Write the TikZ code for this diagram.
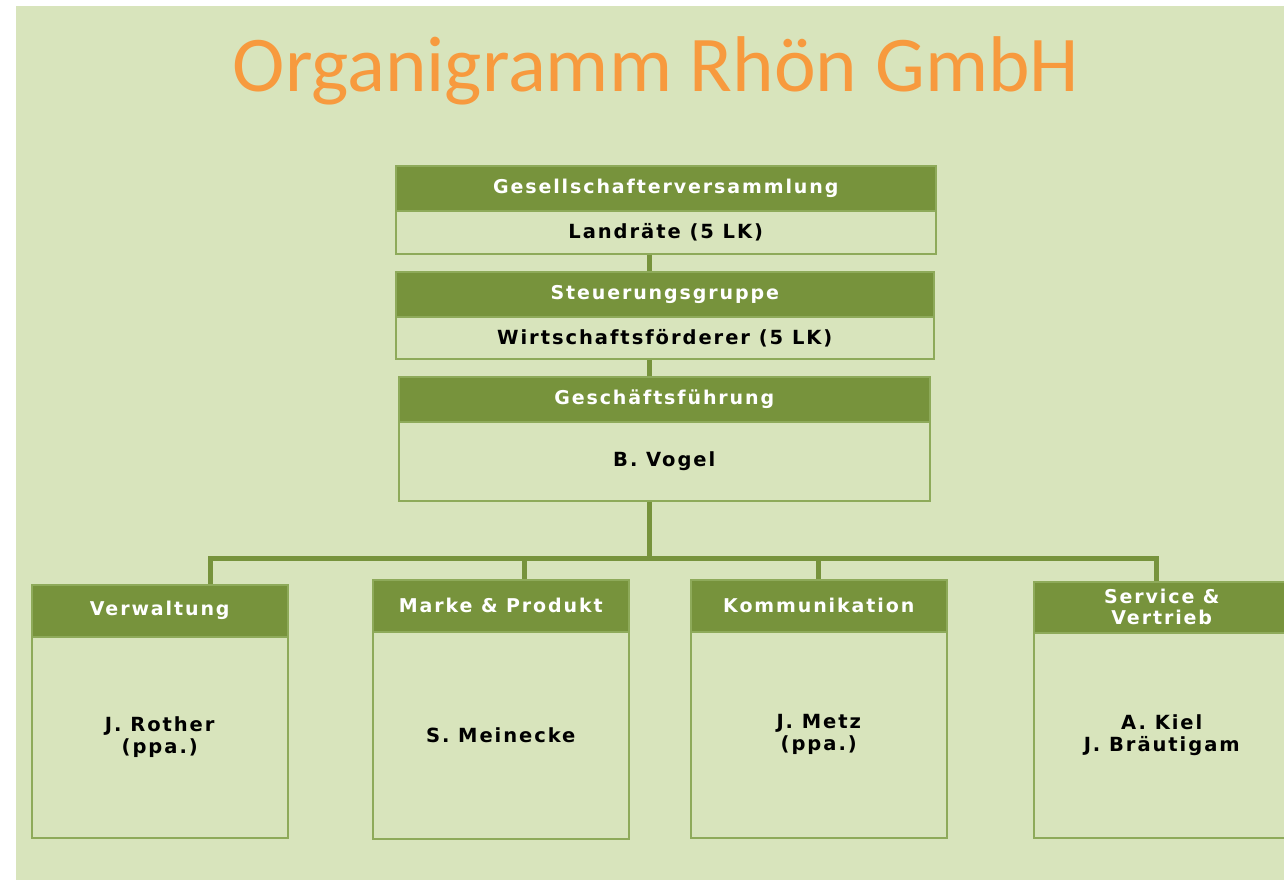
\documentclass[tikz,border=0pt]{standalone}
\usepackage{fontspec}
\setmainfont{DejaVu Sans}
\newfontfamily\titlefont{Carlito}
\newfontfamily\boxfont{DejaVu Sans}[LetterSpace=10]
\definecolor{bgc}{HTML}{D8E4BC}
\definecolor{hdr}{HTML}{77933C}
\definecolor{bord}{HTML}{8EAA5A}
\definecolor{ttl}{HTML}{F79A3E}
\begin{document}
\begin{tikzpicture}[x=1pt,y=-1pt,
  hbox/.style={draw=bord, line width=1.5pt, fill=hdr, anchor=north west, inner sep=0pt,
    text=white, align=center, font=\boxfont\bfseries\fontsize{19}{21}\selectfont},
  bbox/.style={draw=bord, line width=1.5pt, fill=bgc, anchor=north west, inner sep=0pt,
    text=black, align=center, font=\boxfont\bfseries\fontsize{19.5}{22}\selectfont},
  conn/.style={draw=hdr, line width=5pt}]
\useasboundingbox (0,0) rectangle (1284,880);
\fill[white] (0,0) rectangle (1284,880);
\fill[bgc] (16,6) rectangle (1284,880);
\node[text=ttl, font=\titlefont\fontsize{79}{90}\selectfont, anchor=base] (title) at (656,92) {Organigramm Rhön GmbH};
% top boxes
\node[hbox, minimum width=540pt, minimum height=45pt] (gvh) at (395,165) {Gesellschafterversammlung};
\node[bbox, minimum width=540pt, minimum height=43pt] (gvb) at (395,210) {Landräte (5 LK)};
\node[hbox, minimum width=538pt, minimum height=45pt] (sgh) at (395,271) {Steuerungsgruppe};
\node[bbox, minimum width=538pt, minimum height=42pt] (sgb) at (395,316) {Wirtschaftsförderer (5 LK)};
\node[hbox, minimum width=531pt, minimum height=45pt] (gfh) at (398,376) {Geschäftsführung};
\node[bbox, minimum width=531pt, minimum height=79pt] (gfb) at (398,421) {B. Vogel};
% bottom boxes
\node[hbox, minimum width=256pt, minimum height=52pt] (vh) at (31,584) {Verwaltung};
\node[bbox, minimum width=256pt, minimum height=201pt] (vb) at (31,636) {J. Rother\\(ppa.)};
\node[hbox, minimum width=256pt, minimum height=52pt] (mh) at (372,579) {Marke \& Produkt};
\node[bbox, minimum width=256pt, minimum height=207pt] (mb) at (372,631) {S. Meinecke};
\node[hbox, minimum width=256pt, minimum height=52pt] (kh) at (690,579) {Kommunikation};
\node[bbox, minimum width=256pt, minimum height=206pt] (kb) at (690,631) {J. Metz\\(ppa.)};
\node[hbox, minimum width=256pt, minimum height=51pt] (sh) at (1033,581) {Service \&\\Vertrieb};
\node[bbox, minimum width=256pt, minimum height=205pt] (sb) at (1033,632) {A. Kiel\\J. Bräutigam};
% connectors
\coordinate (spine) at (649,0);
\coordinate (bus) at (649,558.5);
\coordinate (d1) at (210.5,558.5);
\coordinate (d2) at (524,558.5);
\coordinate (d3) at (818,558.5);
\coordinate (d4) at (1156,558.5);
\draw[conn] (gvb.south -| spine) -- (sgh.north -| spine);
\draw[conn] (sgb.south -| spine) -- (gfh.north -| spine);
\draw[conn] (gfb.south -| spine) -- (bus);
\draw[conn] ([xshift=-2.5pt]d1) -- ([xshift=2.5pt]d4);
\draw[conn] (d1) -- (d1 |- vh.north);
\draw[conn] (d2) -- (d2 |- mh.north);
\draw[conn] (d3) -- (d3 |- kh.north);
\draw[conn] (d4) -- (d4 |- sh.north);
\end{tikzpicture}
\end{document}
